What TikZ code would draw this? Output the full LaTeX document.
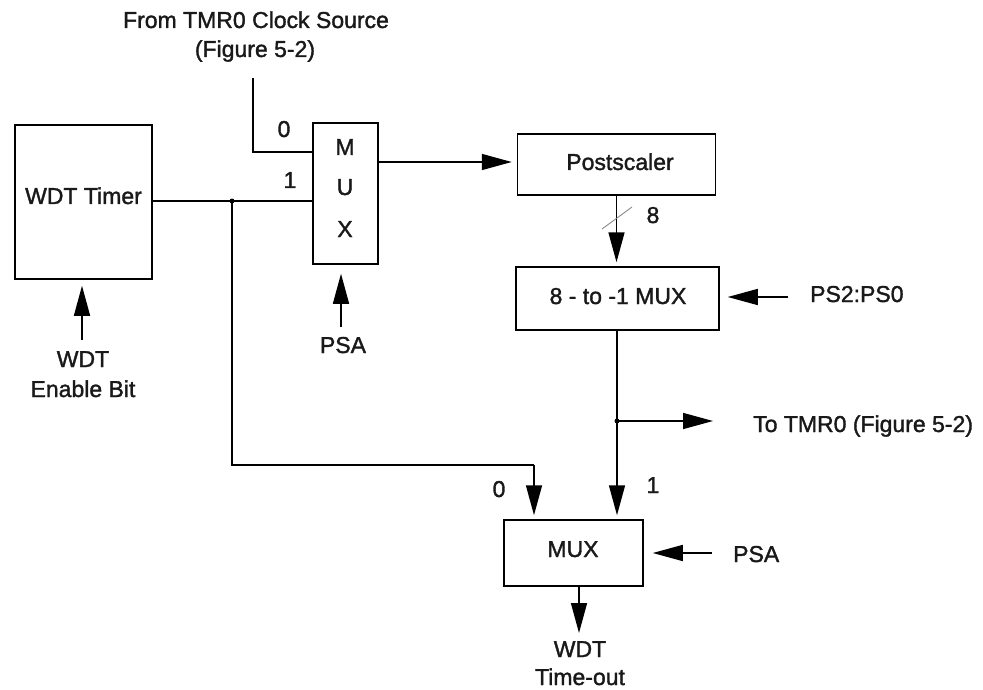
\documentclass[tikz,border=0pt]{standalone}
\usepackage{fontspec}
\setmainfont{Liberation Sans}
\newfontfamily\heavyfont{Liberation Sans}[FakeBold=1.5]
\usetikzlibrary{arrows.meta}
\tikzset{
  blk/.style={draw, line width=1.5pt, inner sep=0pt},
  wire/.style={line width=1.5pt},
  arr/.style={wire, -{Triangle[length=30pt,width=16pt]}},
  lbl/.style={inner sep=0pt, anchor=base, text=black!90},
  dotj/.style={circle, fill, inner sep=0pt, minimum size=5pt},
}
\begin{document}
\begin{tikzpicture}[x=1pt,y=-1pt, font=\heavyfont\fontsize{23}{28}\selectfont]
\useasboundingbox (0,0) rectangle (983,690);
% blocks
\node[blk, minimum width=137pt, minimum height=154pt] (wdt) at (83.5,202) {};
\node[blk, minimum width=65pt, minimum height=141pt] (mux1) at (345.5,193.5) {};
\node[blk, minimum width=198pt, minimum height=61pt] (post) at (616.5,164.5) {};
\node[blk, minimum width=203pt, minimum height=63pt] (mux8) at (617.5,298.5) {};
\node[blk, minimum width=139pt, minimum height=66pt] (mux2) at (573.5,553) {};
% texts
\node[lbl] (t1) at (256,28) {From TMR0 Clock Source};
\node[lbl] (t2) at (255,57) {(Figure 5-2)};
\node[lbl] (twdt) at (83.5,204) {WDT Timer};
\node[lbl] (tm) at (345,155) {M};
\node[lbl] (tu) at (345,195) {U};
\node[lbl] (tx) at (345,237) {X};
\node[lbl] (l0a) at (284,137) {0};
\node[lbl] (l1a) at (290,188) {1};
\node[lbl] (tpost) at (620,170) {Postscaler};
\node[lbl] (t8) at (653,223) {8};
\node[lbl] (tmux8) at (618,304) {8 - to -1 MUX};
\node[lbl, anchor=base west] (tps) at (810,302) {PS2:PS0};
\node[lbl, anchor=base west] (ttmr) at (753,432) {To TMR0 (Figure 5-2)};
\node[lbl] (tmux2) at (573,557) {MUX};
\node[lbl] (l0b) at (499,497) {0};
\node[lbl] (l1b) at (653,493) {1};
\node[lbl, anchor=base west] (tpsa2) at (733,562) {PSA};
\node[lbl] (tout1) at (580,657) {WDT};
\node[lbl] (tout2) at (580,685) {Time-out};
\node[lbl] (ten1) at (83,367) {WDT};
\node[lbl] (ten2) at (83,397) {Enable Bit};
\node[lbl] (tpsa1) at (343,353) {PSA};
% coordinates
\coordinate (src) at (253,78);
\coordinate (in0) at (253,152);
\coordinate (j1) at (232,201);
\coordinate (c1) at (232,465);
\coordinate (c2) at (534,465);
\coordinate (j2) at (617,421);
\coordinate (tmrend) at (713,421);
\coordinate (psin) at (788,297);
\coordinate (psa2in) at (712,553);
\coordinate (enin) at (82,340);
\coordinate (psa1in) at (341,327);
\coordinate (outend) at (579,633);
\coordinate (mo) at (378,162);
% wires
\draw[wire] (src) -- (in0) -- (mux1.west |- in0);
\draw[wire] (wdt.east |- j1) -- (mux1.west |- j1);
\node[dotj] (d1) at (j1) {};
\draw[wire] (j1) -- (c1) -- (c2);
\draw[arr, shorten >=4pt] (c2) -- (c2 |- mux2.north);
\draw[arr, shorten >=5pt] (mux1.east |- mo) -- (post.west |- mo);
\draw[arr, shorten >=4pt] (post.south) -- (post.south |- mux8.north);
\draw[line width=0.8pt, gray] (602,229) -- (632,207);
\draw[arr, shorten >=8pt] (psin) -- (mux8.east |- psin);
\draw[arr, shorten >=4pt] (mux8.south -| j2) -- (j2 |- mux2.north);
\node[dotj] (d2) at (j2) {};
\draw[arr] (j2) -- (tmrend);
\draw[arr, shorten >=9pt] (psa2in) -- (mux2.east |- psa2in);
\draw[arr] (mux2.south -| outend) -- (outend);
\draw[arr, shorten >=6pt] (enin) -- (wdt.south -| enin);
\draw[arr, shorten >=9pt] (psa1in) -- (mux1.south -| psa1in);
\end{tikzpicture}
\end{document}
